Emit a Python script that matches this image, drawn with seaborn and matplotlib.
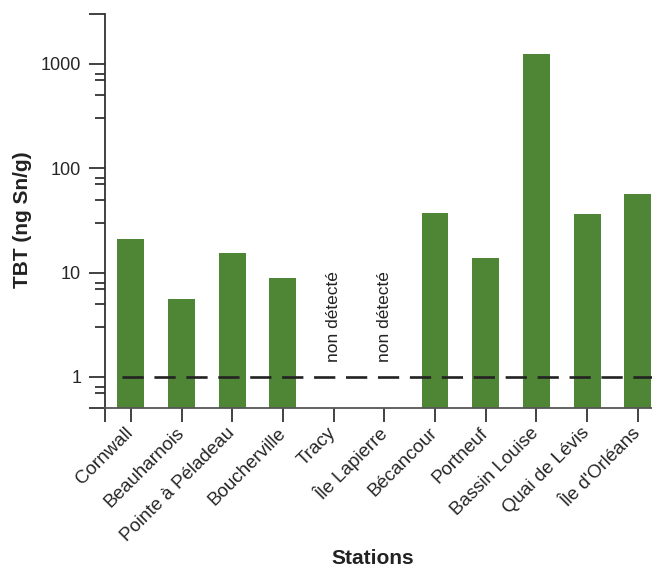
import numpy as np
import pandas as pd
import matplotlib
matplotlib.use("Agg")
import matplotlib.pyplot as plt
import seaborn as sns

# ── Data (TBT, ng Sn/g) ──────────────────────────────────────────
stations = ["Cornwall", "Beauharnois", "Pointe à Péladeau", "Boucherville",
            "Tracy", "Île Lapierre", "Bécancour", "Portneuf",
            "Bassin Louise", "Quai de Lévis", "Île d'Orléans"]
tbt = [21.1, 5.6, 15.4, 8.8, np.nan, np.nan, 37.2, 13.8, 1250, 36.3, 57]
not_detected = ["Tracy", "Île Lapierre"]
detection_limit = 1.0

y_major = [1, 10, 100, 1000]
y_ends = [0.5, 3000]
y_minor = [0.7, 0.8, 3, 5, 7, 8, 30, 50, 70, 80, 300, 500, 700, 800]

df = pd.DataFrame({"station": stations, "tbt": tbt})

sns.set_style("white")
plt.rcParams["font.family"] = ["Liberation Sans", "DejaVu Sans"]

fig = plt.figure(figsize=(6.52, 5.71), dpi=100)
ax = fig.add_axes([0.1618, 0.2849, 1.0 - 0.1618, 0.9755 - 0.2849])

green = "#4f8636"
sns.barplot(data=df, x="station", y="tbt", order=stations, color=green,
            saturation=1, width=0.53, edgecolor="none", ax=ax)

ax.set_yscale("log")
ax.set_ylim(y_ends[0], y_ends[1])
ax.set_xlim(-0.5, 10.28)

# detection limit (dashed)
ax.axhline(detection_limit, xmin=0.030, xmax=1.0, color="#222222", lw=1.9,
           linestyle=(0, (8.05, 4.05)), zorder=3)

# "non détecté" labels
for name in not_detected:
    i = stations.index(name)
    ax.text(i, 1.38, "non détecté", rotation=90, ha="center", va="bottom",
            fontsize=12.5, color="#222222")

# y ticks
ax.set_yticks(y_ends + y_major)
ax.set_yticklabels([""] * len(y_ends) + [str(v) for v in y_major])
ax.set_yticks(y_minor, minor=True)
ax.yaxis.set_minor_formatter(matplotlib.ticker.NullFormatter())
ax.tick_params(axis="y", which="major", direction="out", length=11.5, width=1.3,
               color="#333333", labelsize=13, pad=6, left=True)
ax.tick_params(axis="y", which="minor", direction="out", length=7, width=1.3,
               color="#333333", left=True)

# x ticks
ax.set_xticks([-0.5] + list(range(len(stations))))
ax.set_xticklabels([""] + stations, rotation=45, ha="right",
                   rotation_mode="anchor", va="center")
ax.tick_params(axis="x", which="major", direction="out", length=10, width=1.3,
               color="#333333", labelsize=13.5, pad=6, bottom=True)

for side in ["top", "right"]:
    ax.spines[side].set_visible(False)
ax.spines["left"].set_color("#333333")
ax.spines["left"].set_linewidth(1.3)
ax.spines["bottom"].set_color("#555555")
ax.spines["bottom"].set_linewidth(1.3)

ax.set_ylabel("TBT (ng Sn/g)", fontsize=15, fontweight="bold", color="#222222")
ax.yaxis.set_label_coords(-0.135, 0.478)
ax.set_xlabel("Stations", fontsize=15, fontweight="bold", color="#222222")
ax.xaxis.set_label_coords(0.489, -0.358)

fig.savefig("out.png", dpi=100)
